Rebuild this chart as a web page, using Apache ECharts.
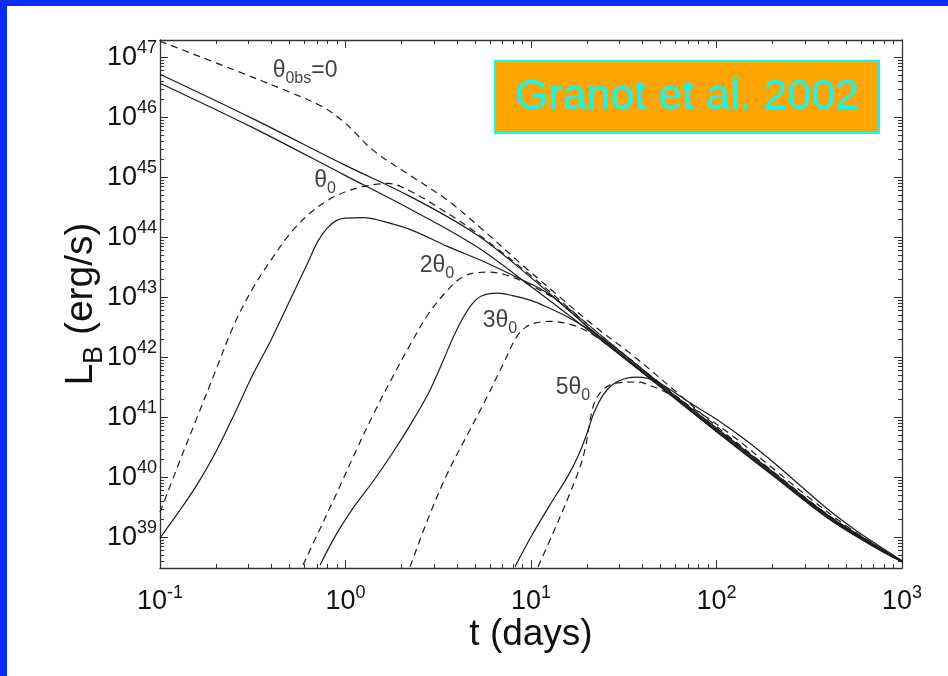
<!DOCTYPE html>
<html><head><meta charset="utf-8">
<script src="https://cdn.jsdelivr.net/npm/echarts@6/dist/echarts.min.js"></script>
<style>
html,body{margin:0;padding:0;background:#fff;}
#main{position:absolute;left:0;top:0;width:948px;height:676px;background:#fff;}
.bar{position:absolute;background:#0b2bff;}
</style></head><body>
<div id="main"></div>
<div class="bar" style="left:0;top:0;width:948px;height:6px"></div>
<div class="bar" style="left:0;top:0;width:7px;height:676px"></div>
<script>
// ---- data (log10 t [days], log10 L_B [erg/s]) ----
const solidA_logT = [-1, -0.5, 0, 0.35, 0.7, 1.0, 1.372, 1.7, 2.0, 2.3, 2.6, 2.85, 3.0];
const solidA_logL = [46.72, 45.98, 45.20, 44.68, 44.06, 43.33, 42.34, 41.53, 40.79, 40.07, 39.35, 38.86, 38.60];

const solidB_logT = [-1, -0.5, 0, 0.35, 0.7, 1.0, 1.372, 1.7, 2.0, 2.3, 2.6, 2.85, 3.0];
const solidB_logL = [46.57, 45.83, 45.03, 44.47, 43.86, 43.18, 42.30, 41.50, 40.76, 40.04, 39.32, 38.84, 38.59];

const dashed0_logT = [-1, -0.6, -0.3, -0.12, 0.0, 0.15, 0.36, 0.55, 0.75, 0.95, 1.15, 1.35, 1.55, 1.8, 2.0, 2.3, 2.6, 2.85, 3.0];
const dashed0_logL = [47.27, 46.79, 46.42, 46.17, 45.90, 45.45, 45.01, 44.62, 44.10, 43.55, 43.02, 42.50, 42.03, 41.38, 40.85, 40.11, 39.38, 38.88, 38.61];

const dashed1_logT = [-1.0, -0.9, -0.8, -0.7, -0.6, -0.5, -0.4, -0.3, -0.2, -0.1, 0.0, 0.1, 0.23, 0.35, 0.5, 0.7, 1.0, 1.372, 1.7, 2.0, 2.3, 2.6, 2.85, 3.0];
const dashed1_logL = [39.42, 40.22, 41.0, 41.78, 42.55, 43.15, 43.63, 44.06, 44.38, 44.61, 44.76, 44.85, 44.90, 44.77, 44.50, 44.09, 43.36, 42.38, 41.56, 40.82, 40.09, 39.37, 38.87, 38.61];

const solid2_logT = [-1.0, -0.9, -0.8, -0.7, -0.6, -0.5, -0.4, -0.3, -0.2, -0.15, -0.1, -0.05, 0.0, 0.1, 0.2, 0.35, 0.55, 0.75, 0.9, 1.1, 1.372, 1.7, 2.0, 2.3, 2.6, 2.85, 3.0];
const solid2_logL = [38.99, 39.42, 39.88, 40.42, 41.05, 41.71, 42.30, 42.95, 43.60, 43.93, 44.15, 44.28, 44.32, 44.33, 44.27, 44.13, 43.85, 43.59, 43.37, 43.05, 42.32, 41.51, 40.77, 40.05, 39.33, 38.85, 38.60];

const dashed2_logT = [-0.229, -0.15, -0.05, 0.05, 0.15, 0.25, 0.35, 0.45, 0.55, 0.62, 0.7, 0.78, 0.87, 1.0, 1.15, 1.372, 1.7, 2.0, 2.3, 2.6, 2.85, 3.0];
const dashed2_logL = [38.54, 39.06, 39.72, 40.40, 41.05, 41.65, 42.22, 42.74, 43.12, 43.32, 43.41, 43.42, 43.37, 43.20, 42.93, 42.38, 41.55, 40.81, 40.09, 39.37, 38.87, 38.61];

const solid3_logT = [-0.137, -0.05, 0.05, 0.15, 0.25, 0.35, 0.45, 0.52, 0.58, 0.63, 0.68, 0.73, 0.82, 0.9, 1.0, 1.1, 1.2, 1.3, 1.45, 1.7, 2.0, 2.3, 2.6, 2.85, 3.0];
const solid3_logL = [38.54, 39.05, 39.53, 39.94, 40.39, 40.88, 41.42, 41.90, 42.33, 42.64, 42.88, 43.02, 43.07, 43.03, 42.95, 42.82, 42.67, 42.49, 42.17, 41.55, 40.82, 40.10, 39.37, 38.87, 38.60];

const dashed3_logT = [0.348, 0.45, 0.55, 0.65, 0.75, 0.85, 0.92, 0.97, 1.02, 1.1, 1.2, 1.3, 1.45, 1.7, 2.0, 2.3, 2.6, 2.85, 3.0];
const dashed3_logL = [38.51, 39.35, 40.07, 40.67, 41.26, 41.89, 42.33, 42.50, 42.57, 42.60, 42.56, 42.44, 42.12, 41.51, 40.77, 40.05, 39.33, 38.85, 38.59];

const solid5_logT = [0.914, 1.0, 1.1, 1.2, 1.26, 1.3, 1.34, 1.39, 1.44, 1.5, 1.56, 1.63, 1.7, 1.8, 1.9, 2.0, 2.15, 2.3, 2.45, 2.6, 2.75, 2.9, 3.0];
const solid5_logL = [38.51, 39.01, 39.53, 40.03, 40.40, 40.72, 41.08, 41.38, 41.55, 41.64, 41.67, 41.65, 41.56, 41.36, 41.16, 40.97, 40.64, 40.27, 39.87, 39.47, 39.12, 38.81, 38.61];

const dashed5_logT = [1.038, 1.12, 1.2, 1.265, 1.295, 1.31, 1.325, 1.345, 1.38, 1.42, 1.48, 1.57, 1.66, 1.75, 1.9, 2.1, 2.3, 2.5, 2.7, 2.9, 3.0];
const dashed5_logL = [38.51, 39.08, 39.66, 40.18, 40.52, 40.80, 41.05, 41.27, 41.44, 41.53, 41.58, 41.59, 41.51, 41.38, 41.10, 40.66, 40.16, 39.66, 39.19, 38.79, 38.60];

// curve labels: text (rich) and anchor [log10 t, log10 L]
const annoText = ['{t|θ}{u|0bs}{t|=0}', '{t|θ}{u|0}', '{t|2θ}{u|0}', '{t|3θ}{u|0}', '{t|5θ}{u|0}'];
const annoPos  = [[-0.218, 46.74], [-0.110, 44.91], [0.493, 43.49], [0.833, 42.575], [1.226, 41.46]];

// axes
const xTickExp = [-1, 0, 1, 2, 3];
const yTickExp = [39, 40, 41, 42, 43, 44, 45, 46, 47];
const xRangeExp = [-1, 3];
const yRangeExp = [38.49, 47.29];
const titleText = 'Granot et al. 2002';
const xName = 't (days)';
const yNameRich = '{a|L}{b|B}{a| (erg/s)}';

// ---- build ----
const FONT = "'Liberation Sans', Arial, Helvetica, sans-serif";
const P = v => Math.pow(10, v);
const pairs = (T, L) => T.map((t, i) => [P(t), P(L[i])]);
const xMin = P(xRangeExp[0]), xMax = P(xRangeExp[1]);
const yMin = P(yRangeExp[0]), yMax = P(yRangeExp[1]);
const xMajor = xTickExp.map(P), yMajor = yTickExp.map(P);
function minors(e0, e1, lo, hi) {
  const out = [];
  for (let e = e0; e <= e1; e++) for (let k = 2; k <= 9; k++) {
    const v = k * Math.pow(10, e);
    if (v > lo && v < hi) out.push(v);
  }
  return out;
}
const xMinor = minors(-1, 2, xMin, xMax);
const yMinor = minors(38, 47, yMin, yMax);

const INK = '#1c1c1c';
const labRich = {
  b: { fontSize: 27, lineHeight: 36, verticalAlign: 'middle', fontFamily: FONT, color: '#111' },
  s: { fontSize: 18, lineHeight: 20, verticalAlign: 'top', fontFamily: FONT, color: '#111' }
};
const labFmt = v => '{b|10}{s|' + Math.round(Math.log10(v)) + '}';

function axis(kind, pos, major, withLabel) {
  const isX = kind === 'x';
  const ax = {
    type: 'log', logBase: 10, position: pos,
    min: isX ? xMin : yMin, max: isX ? xMax : yMax,
    splitLine: { show: false },
    axisLine: { show: major, onZero: false, lineStyle: { color: '#333', width: 1.3 } },
    axisTick: { show: true, inside: true, length: major ? 8 : 4,
      customValues: major ? (isX ? xMajor : yMajor) : (isX ? xMinor : yMinor),
      lineStyle: { color: '#333', width: 1 } },
    axisLabel: { show: false }
  };
  if (withLabel) {
    ax.axisLabel = { show: true, customValues: isX ? xMajor : yMajor,
      formatter: labFmt, rich: labRich, margin: isX ? 16 : 3 };
    ax.nameMoveOverlap = false;
    if (isX) {
      ax.name = xName; ax.nameLocation = 'middle'; ax.nameGap = 48;
      ax.nameTextStyle = { fontSize: 37, fontFamily: FONT, color: '#111' };
    } else {
      ax.name = yNameRich; ax.nameLocation = 'middle'; ax.nameGap = 52; ax.nameRotate = 90;
      ax.nameTextStyle = { fontFamily: FONT, color: '#111', rich: {
        a: { fontSize: 39, fontFamily: FONT, color: '#111', lineHeight: 46, verticalAlign: 'top' },
        b: { fontSize: 27, fontFamily: FONT, color: '#111', lineHeight: 30, verticalAlign: 'bottom' } } };
    }
  }
  return ax;
}

function line(T, L, dashed) {
  return { type: 'line', data: pairs(T, L), showSymbol: false, smooth: 0.35,
    xAxisIndex: 0, yAxisIndex: 0, silent: true, z: 3,
    lineStyle: { color: INK, width: 1.2, type: dashed ? [7, 5] : 'solid' } };
}

const series = [
  line(solidA_logT, solidA_logL, false),
  line(solidB_logT, solidB_logL, false),
  line(dashed0_logT, dashed0_logL, true),
  line(dashed1_logT, dashed1_logL, true),
  line(solid2_logT, solid2_logL, false),
  line(dashed2_logT, dashed2_logL, true),
  line(solid3_logT, solid3_logL, false),
  line(dashed3_logT, dashed3_logL, true),
  line(solid5_logT, solid5_logL, false),
  line(dashed5_logT, dashed5_logL, true),
  { type: 'scatter', symbolSize: 0, silent: true, z: 5,
    data: annoPos.map((p, i) => ({ value: [P(p[0]), P(p[1])], name: annoText[i] })),
    label: { show: true, position: 'inside', formatter: p => p.name,
      rich: {
        t: { fontSize: 23, lineHeight: 28, verticalAlign: 'top', fontFamily: FONT, color: '#111' },
        u: { fontSize: 16, lineHeight: 18, verticalAlign: 'bottom', fontFamily: FONT, color: '#111' }
      } } }
];

const chart = echarts.init(document.getElementById('main'), null, { renderer: 'canvas' });
chart.setOption({
  animation: false,
  backgroundColor: '#fff',
  title: { text: titleText, left: 495, top: 61,
    backgroundColor: '#FFA500', borderColor: '#00FFFF', borderWidth: 2,
    padding: [14, 20, 14, 20],
    textStyle: { color: '#00FFFF', fontSize: 43, fontWeight: 'normal', fontFamily: FONT, lineHeight: 44 } },
  grid: { left: 160, right: 46, top: 40, bottom: 108, containLabel: false },
  xAxis: [ axis('x', 'bottom', true, true), axis('x', 'bottom', false, false),
           axis('x', 'top', true, false), axis('x', 'top', false, false) ],
  yAxis: [ axis('y', 'left', true, true), axis('y', 'left', false, false),
           axis('y', 'right', true, false), axis('y', 'right', false, false) ],
  series: series
});
</script></body></html>
